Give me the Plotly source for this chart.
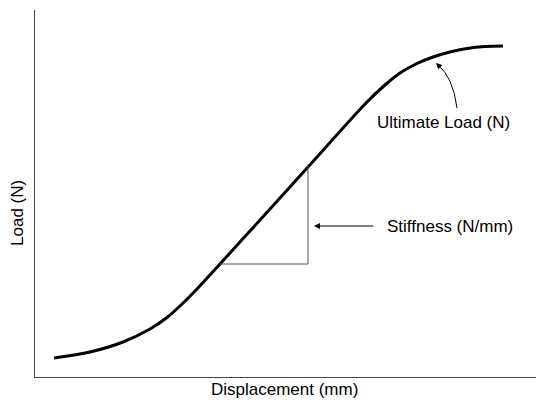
import plotly.graph_objects as go

# Load-displacement curve (arbitrary units)
displacement = [19, 55, 88, 115, 132, 145, 162, 185, 230, 273, 332, 350, 365, 382, 398, 415, 432, 450, 468]
load = [19, 25, 35, 48, 59.5, 71, 88, 113, 162.5, 210, 275, 292, 304, 313.5, 320, 325, 328.5, 330.5, 331]

x_title = "Displacement (mm)"
y_title = "Load (N)"
ultimate_label = "Ultimate Load (N)"
stiffness_label = "Stiffness (N/mm)"

FONT = dict(family="Liberation Sans, Arial", size=17, color="black")

# triangle built from two points on the linear part of the curve
tri_a = (displacement[7], load[7])   # lower point
tri_b = (displacement[9], load[9])   # upper point

fig = go.Figure()
fig.add_trace(go.Scatter(x=displacement, y=load, mode="lines",
                         line=dict(color="black", width=3, shape="spline", smoothing=0.9),
                         hoverinfo="skip", showlegend=False))

# triangle lines
fig.add_shape(type="line", x0=tri_a[0], y0=tri_a[1], x1=tri_b[0], y1=tri_a[1],
              line=dict(color="#555", width=1))
fig.add_shape(type="line", x0=tri_b[0], y0=tri_a[1], x1=tri_b[0], y1=tri_b[1] + 3,
              line=dict(color="#555", width=1))

# curved arrow for ultimate load
fig.add_shape(type="path", path="M 422 269 Q 418 300 403 312",
              line=dict(color="black", width=1))
fig.add_annotation(x=401, y=314, ax=405, ay=310, xref="x", yref="y", axref="x", ayref="y",
                   text="", showarrow=True, arrowhead=2, arrowsize=1.2, arrowwidth=1, arrowcolor="black")
fig.add_annotation(x=408, y=255, text=ultimate_label, showarrow=False, font=FONT)

# stiffness arrow
fig.add_annotation(x=tri_b[0] + 6, y=151, ax=340, ay=151, xref="x", yref="y", axref="x", ayref="y",
                   text="", showarrow=True, arrowhead=2, arrowsize=1.2, arrowwidth=1, arrowcolor="black")
fig.add_annotation(x=415, y=151, text=stiffness_label, showarrow=False, font=FONT)

# axis titles
fig.add_annotation(x=0.499, y=-0.035, xref="paper", yref="paper", text=x_title,
                   showarrow=False, font=FONT, xanchor="center", yanchor="middle")
fig.add_annotation(x=-0.034, y=0.447, xref="paper", yref="paper", text=y_title,
                   showarrow=False, font=FONT, textangle=-90, xanchor="center", yanchor="middle")

axis_common = dict(showgrid=False, zeroline=False, showticklabels=False, ticks="",
                   showline=True, linecolor="#444", linewidth=1, automargin=False)
fig.update_xaxes(range=[0, 501], **axis_common)
fig.update_yaxes(range=[0, 367], **axis_common)

fig.update_layout(width=536, height=405, margin=dict(l=35, r=0, t=10, b=28),
                  plot_bgcolor="white", paper_bgcolor="white")
fig.write_html("out.html", config={"displayModeBar": False},
               post_script="document.body.style.margin='0';")
